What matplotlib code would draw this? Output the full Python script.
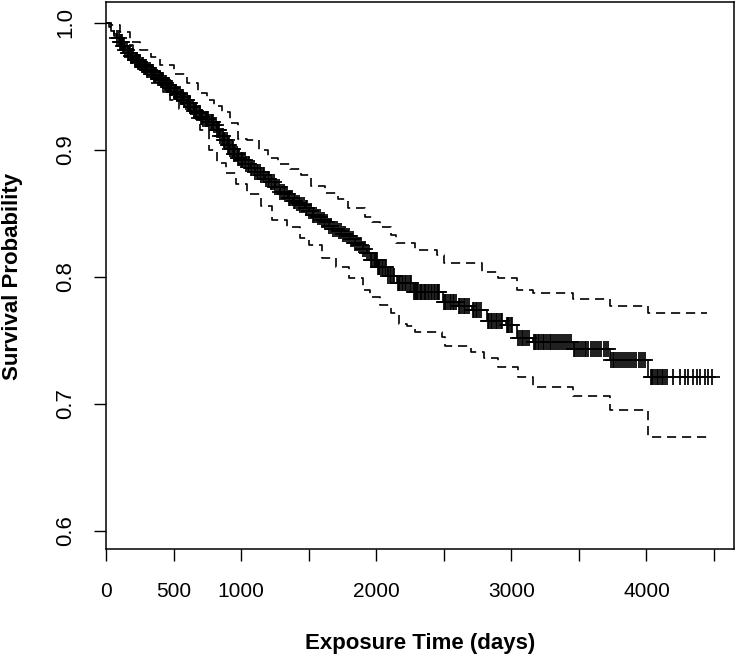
"""
Kaplan-Meier survival curve with 95% confidence band and censoring marks.
"""

import numpy as np
import matplotlib
matplotlib.use('Agg')
import matplotlib.pyplot as plt

# step curve (days, survival probability)
km_time = [0, 20, 40, 60, 80, 100, 120, 140, 160, 185, 210, 230, 255, 280, 300,
           325, 350, 380, 405, 430, 450, 475, 500, 525, 550, 575, 600, 625, 650,
           673, 700, 720, 760, 800, 820, 844, 870, 895, 918, 945, 970, 992, 1030,
           1066, 1100, 1140, 1180, 1214, 1250, 1288, 1320, 1350, 1384, 1410, 1436,
           1470, 1500, 1530, 1562, 1590, 1620, 1650, 1680, 1710, 1740, 1775, 1806,
           1840, 1870, 1900, 1932, 1960, 2010, 2087, 2154, 2272, 2494, 2605, 2709,
           2820, 2960, 3040, 3160, 3456, 3730, 4010, 4485]
km_surv = [1.000, 0.997, 0.994, 0.991, 0.988, 0.985, 0.982, 0.979, 0.976, 0.974,
           0.971, 0.969, 0.967, 0.965, 0.963, 0.961, 0.959, 0.957, 0.955, 0.953,
           0.951, 0.949, 0.946, 0.944, 0.942, 0.939, 0.937, 0.934, 0.931, 0.929,
           0.926, 0.924, 0.922, 0.920, 0.916, 0.911, 0.908, 0.904, 0.901, 0.897,
           0.894, 0.892, 0.889, 0.886, 0.883, 0.880, 0.877, 0.875, 0.871, 0.867,
           0.865, 0.862, 0.860, 0.858, 0.857, 0.854, 0.852, 0.849, 0.847, 0.845,
           0.843, 0.840, 0.838, 0.836, 0.834, 0.832, 0.830, 0.827, 0.825, 0.822,
           0.819, 0.813, 0.808, 0.801, 0.795, 0.788, 0.780, 0.777, 0.774, 0.765,
           0.762, 0.752, 0.749, 0.743, 0.735, 0.721, 0.721]

# upper confidence limit
up_time = [0, 40, 100, 180, 252, 330, 400, 500, 600, 680, 748, 800, 860, 920, 980,
           1040, 1130, 1200, 1270, 1360, 1440, 1520, 1620, 1720, 1790, 1920, 1970,
           2030, 2110, 2150, 2290, 2450, 2500, 2780, 2900, 3040, 3160, 3456, 3730,
           4010, 4450]
up_surv = [1.000, 0.998, 0.993, 0.985, 0.979, 0.973, 0.967, 0.960, 0.953, 0.945,
           0.939, 0.935, 0.930, 0.921, 0.909, 0.908, 0.900, 0.894, 0.889, 0.885,
           0.880, 0.872, 0.866, 0.861, 0.854, 0.847, 0.843, 0.839, 0.833, 0.827,
           0.821, 0.817, 0.811, 0.804, 0.799, 0.790, 0.787, 0.783, 0.777, 0.772,
           0.772]

# lower confidence limit
lo_time = [0, 40, 60, 110, 200, 270, 330, 420, 470, 540, 620, 696, 760, 820, 890,
           960, 1040, 1150, 1230, 1340, 1436, 1500, 1600, 1700, 1800, 1900, 1954,
           2030, 2110, 2170, 2230, 2290, 2490, 2510, 2700, 2800, 2900, 3050, 3160,
           3460, 3730, 4010, 4485]
lo_surv = [1.000, 0.995, 0.990, 0.983, 0.970, 0.961, 0.953, 0.946, 0.939, 0.932,
           0.925, 0.916, 0.900, 0.890, 0.882, 0.873, 0.865, 0.856, 0.845, 0.839,
           0.831, 0.825, 0.815, 0.808, 0.799, 0.790, 0.784, 0.778, 0.772, 0.763,
           0.761, 0.757, 0.753, 0.746, 0.741, 0.736, 0.729, 0.721, 0.713, 0.706,
           0.695, 0.674, 0.674]

# censoring times
cens_early = [84, 93, 101, 110, 118, 127, 135, 144, 152, 161, 169, 178, 186, 195,
              203, 212, 220, 229, 237, 246, 254, 263, 271, 280, 288, 297, 305, 314,
              322, 331, 339, 348, 356, 365, 373, 382, 390, 399, 407, 416, 424, 433,
              441, 450, 458, 467, 475, 484, 492, 501, 510, 519, 527, 536, 545, 553,
              562, 571, 580, 588, 597, 606, 615, 623, 632, 641, 650, 658, 667, 676,
              685, 694, 703, 712, 721, 730, 739, 748, 757, 766, 775, 784, 793, 802,
              811, 820, 829, 838, 847, 856, 866, 875, 884, 893, 902, 912, 921, 930,
              940, 949, 958, 968, 977, 987, 996]
cens_mid = [1006, 1017, 1028, 1039, 1050, 1061, 1072, 1083, 1094, 1105, 1116, 1127,
            1139, 1150, 1161, 1173, 1184, 1196, 1207, 1219, 1230, 1242, 1254, 1266,
            1278, 1290, 1302, 1314, 1326, 1338, 1351, 1363, 1375, 1388, 1400, 1413,
            1426, 1438, 1451, 1464, 1477, 1490, 1503, 1516, 1530, 1543, 1556, 1570,
            1583, 1597, 1611, 1624, 1638, 1652, 1666, 1680, 1694, 1708, 1723, 1737,
            1752, 1766, 1781, 1796, 1811, 1826, 1841, 1856, 1871, 1887, 1902, 1918,
            1934, 1946]
cens_late = [1965, 1972, 1980, 1988, 1996, 2003, 2012, 2021, 2030, 2041, 2052, 2063,
             2074, 2090, 2099, 2110, 2121, 2132, 2158, 2167, 2178, 2189, 2200, 2212,
             2224, 2236, 2248, 2259, 2276, 2285, 2294, 2303, 2312, 2322, 2331, 2341,
             2351, 2360, 2370, 2380, 2391, 2402, 2413, 2424, 2436, 2447, 2458, 2468,
             2498, 2508, 2519, 2531, 2543, 2555, 2567, 2579, 2590, 2610, 2622, 2634,
             2647, 2660, 2673, 2686, 2714, 2725, 2737, 2749, 2762, 2775, 2825, 2836,
             2847, 2859, 2871, 2884, 2897, 2910, 2923, 2934, 2965, 2975, 2986, 2997,
             3008, 3053, 3064, 3076, 3089, 3102, 3115, 3128, 3165, 3175, 3186, 3197,
             3208, 3220, 3232, 3244, 3257, 3270, 3283, 3296, 3310, 3324, 3338, 3352,
             3366, 3380, 3395, 3410, 3425, 3440, 3462, 3474, 3487, 3500, 3514, 3528,
             3542, 3556, 3571, 3586, 3601, 3617, 3633, 3650, 3667, 3684, 3701, 3718,
             3736, 3749, 3762, 3776, 3790, 3804, 3818, 3833, 3848, 3863, 3878, 3894,
             3910, 3926, 3942, 3958, 3974, 3990, 4030, 4041, 4052, 4063, 4075, 4087,
             4099, 4112, 4125, 4138, 4150, 4197, 4248, 4285, 4308, 4345, 4374, 4396,
             4434, 4456, 4485]

x_ticks = [0, 500, 1000, 1500, 2000, 2500, 3000, 3500, 4000, 4500]
x_labels = ['0', '500', '1000', '', '2000', '', '3000', '', '4000', '']
y_ticks = [0.6, 0.7, 0.8, 0.9, 1.0]
y_labels = ['0.6', '0.7', '0.8', '0.9', '1.0']

plt.rcParams['font.family'] = ['Liberation Sans', 'DejaVu Sans']

fig = plt.figure(figsize=(7.38, 6.59), dpi=100)
ax = fig.add_axes([106 / 738, 1 - 549 / 659, 628 / 738, 547 / 659])

dash = (0, (5.5, 3.5))
ax.step(km_time, km_surv, where='post', color='black', lw=1.2)
ax.step(up_time, up_surv, where='post', color='black', lw=1.2, linestyle=dash)
ax.step(lo_time, lo_surv, where='post', color='black', lw=1.2, linestyle=dash)

# censor marks sit on the step curve
cens = np.array(cens_early + cens_mid + cens_late)
idx = np.searchsorted(km_time, cens, side='right') - 1
cens_surv = np.array(km_surv)[idx]
ax.plot(cens, cens_surv, linestyle='none', marker='+', color='black',
        markersize=12, markeredgewidth=1.25)

ax.set_xlim(0, 4648)
ax.set_ylim(0.5858, 1.0165)

ax.set_xticks(x_ticks)
ax.set_xticklabels(x_labels, fontsize=15)
ax.set_yticks(y_ticks)
ax.set_yticklabels(y_labels, fontsize=16, rotation=90, va='center')
ax.tick_params(axis='x', direction='out', length=8.6, width=1, pad=15)
ax.tick_params(axis='y', direction='out', length=8.6, width=1, pad=13)

for sp in ax.spines.values():
    sp.set_linewidth(1.1)
    sp.set_color('black')

fig.text(420 / 738, 1 - 643 / 659, 'Exposure Time (days)', fontsize=16,
         fontweight='bold', ha='center', va='center')
fig.text(13 / 738, 1 - 276 / 659, 'Survival Probability', fontsize=16,
         fontweight='bold', ha='center', va='center', rotation=90)

fig.savefig('out.png', dpi=100)
